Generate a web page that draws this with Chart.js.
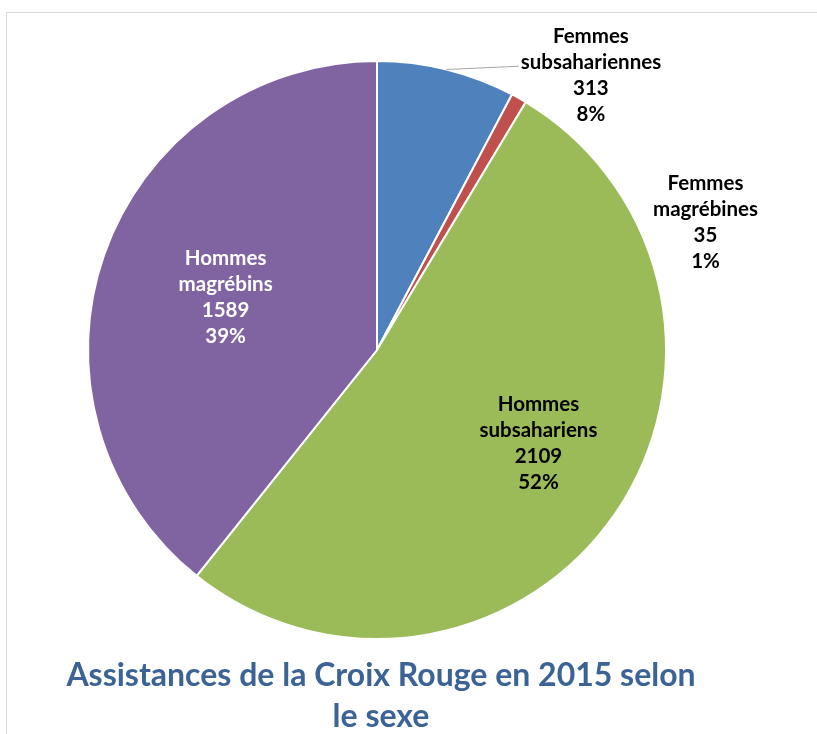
<!DOCTYPE html>
<html>
<head>
<meta charset="utf-8">
<script src="https://cdn.jsdelivr.net/npm/chart.js@4/dist/chart.umd.min.js"></script>
<style>
  html, body { margin: 0; padding: 0; background: #fff; }
  #wrap { width: 817px; height: 734px; }
</style>
</head>
<body>
<div id="wrap"><canvas id="chart" width="817" height="734"></canvas></div>
<script>
// data
const categories = ['Femmes subsahariennes', 'Femmes magrébines', 'Hommes subsahariens', 'Hommes magrébins'];
const labelLines = [['Femmes', 'subsahariennes'], ['Femmes', 'magrébines'], ['Hommes', 'subsahariens'], ['Hommes', 'magrébins']];
const counts = [313, 35, 2109, 1589];
const percents = ['8%', '1%', '52%', '39%'];
const sliceColors = ['#4F81BD', '#C0504D', '#9BBB59', '#8064A2'];
const titleLines = ['Assistances de la Croix Rouge en 2015 selon', 'le sexe'];

// where each data label sits: angle from 12 o'clock (deg), distance as fraction of radius
const labelPlace = [
    { angle: 37.9, dist: 1.205, color: '#000', leader: true },
    { angle: 68.7, dist: 1.22, color: '#000' },
    { angle: 120, dist: 0.645, color: '#000' },
    { angle: 289.3, dist: 0.555, color: '#fff' }
];

const FONT = 'Lato, "Open Sans", sans-serif';

const labelPlugin = {
    id: 'sliceLabels',
    beforeDraw(chart) {
        const ctx = chart.ctx;
        ctx.save();
        ctx.fillStyle = '#fff';
        ctx.fillRect(0, 0, chart.width, chart.height);
        ctx.strokeStyle = '#D9D9D9';
        ctx.lineWidth = 1;
        ctx.strokeRect(6.5, 12.5, chart.width + 10, chart.height + 10);
        ctx.restore();
    },
    afterDraw(chart) {
        const ctx = chart.ctx;
        const arcs = chart.getDatasetMeta(0).data;
        const cx = arcs[0].x, cy = arcs[0].y, r = arcs[0].outerRadius;
        const lineH = 26;
        ctx.save();
        ctx.font = 'bold 20.5px ' + FONT;
        ctx.textAlign = 'center';
        ctx.textBaseline = 'middle';
        arcs.forEach((arc, i) => {
            const p = labelPlace[i];
            const a = p.angle * Math.PI / 180;
            const lx = cx + Math.sin(a) * r * p.dist;
            const ly = cy - Math.cos(a) * r * p.dist;
            const lines = [...labelLines[i], String(counts[i]), percents[i]];
            const top = ly - (lines.length - 1) * lineH / 2;
            ctx.fillStyle = p.color;
            lines.forEach((t, k) => ctx.fillText(t, lx, top + k * lineH));
            if (p.leader) {
                const mid = (arc.startAngle + arc.endAngle) / 2;
                const ex = cx + Math.cos(mid) * r;
                const ey = cy + Math.sin(mid) * r;
                const w = ctx.measureText(lines[1]).width;
                ctx.strokeStyle = '#A6A6A6';
                ctx.lineWidth = 1;
                ctx.beginPath();
                ctx.moveTo(ex, ey);
                ctx.lineTo(lx - w / 2 - 2, top + lineH + 4);
                ctx.stroke();
            }
        });
        // chart title under the pie
        ctx.fillStyle = '#3B6396';
        ctx.font = 'bold 32px ' + FONT;
        ctx.fillText(titleLines[0], 381, 676);
        ctx.fillText(titleLines[1], 381, 717);
        ctx.restore();
    }
};

new Chart(document.getElementById('chart'), {
    type: 'pie',
    data: {
        labels: categories,
        datasets: [{
            data: counts,
            backgroundColor: sliceColors,
            borderColor: '#fff',
            borderWidth: 2
        }]
    },
    options: {
        responsive: false,
        animation: false,
        layout: { padding: { left: 87, right: 150, top: 60, bottom: 94 } },
        plugins: {
            legend: { display: false },
            tooltip: { enabled: false },
            title: { display: false }
        }
    },
    plugins: [labelPlugin]
});
</script>
</body>
</html>
